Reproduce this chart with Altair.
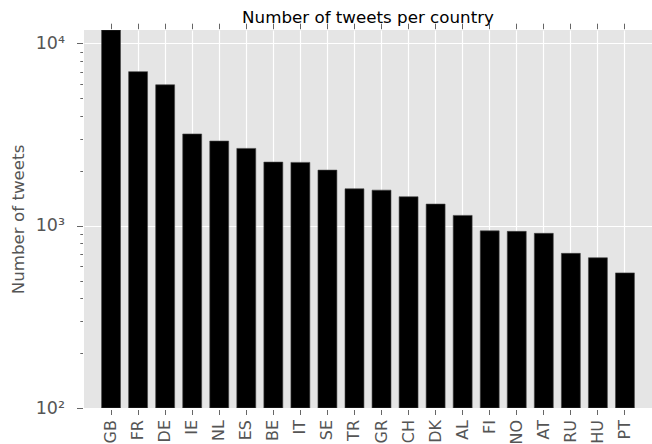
import altair as alt
import pandas as pd

countries = ["GB", "FR", "DE", "IE", "NL", "ES", "BE", "IT", "SE", "TR",
             "GR", "CH", "DK", "AL", "FI", "NO", "AT", "RU", "HU", "PT"]
tweets = [11840, 7000, 5930, 3185, 2913, 2655, 2233, 2225, 2018, 1594,
          1567, 1442, 1314, 1139, 937, 931, 908, 705, 667, 551]

major_ticks = [100, 1000, 10000]
minor_ticks = [200, 300, 400, 500, 600, 700, 800, 900,
               2000, 3000, 4000, 5000, 6000, 7000, 8000, 9000]
y_floor = 100

df = pd.DataFrame({"country": countries, "tweets": tweets,
                   "base": [y_floor] * len(countries)})

FONT = "DejaVu Sans"
GRAY = "#555555"
TICK = "#666666"

x_scale = alt.Scale(paddingInner=0.3, paddingOuter=0.65)
y_scale = alt.Scale(type="log", domain=[100, 11844], nice=False)

label_expr = "datum.value == 100 ? '10²' : datum.value == 1000 ? '10³' : '10⁴'"

bars = alt.Chart(df).mark_bar(
    color="black", stroke="#444444", strokeWidth=0.6, clip=True
).encode(
    x=alt.X("country:N", sort=countries, scale=x_scale,
            axis=alt.Axis(orient="bottom", title=None, labelAngle=270,
                          labelAlign="right", labelBaseline="middle",
                          labelFontSize=16, labelColor=GRAY, labelFont=FONT,
                          labelPadding=5, labelOverlap=False,
                          tickSize=5, tickColor=TICK, tickWidth=1,
                          offset=1.5, domain=False, grid=True,
                          gridColor="white", gridWidth=1.2)),
    y=alt.Y("tweets:Q", scale=y_scale,
            axis=alt.Axis(orient="left", values=major_ticks,
                          labelExpr=label_expr, labelFontSize=17.5,
                          labelColor=GRAY, labelFont=FONT, labelPadding=12,
                          labelOverlap=False, labelBaseline="middle",
                          tickSize=6, tickColor=TICK, tickWidth=1,
                          offset=1.5, domain=False, grid=True,
                          gridColor="white", gridWidth=1.2,
                          title="Number of tweets", titleX=-64, titleY=189,
                          titleAngle=270, titleAlign="center",
                          titleBaseline="middle", titleFontSize=16.7,
                          titleFontWeight="normal", titleColor=GRAY,
                          titleFont=FONT)),
    y2="base:Q",
)

ghost = alt.Chart(df).mark_bar(opacity=0).encode(
    x=alt.X("country:N", sort=countries,
            axis=alt.Axis(orient="top", labels=False, title=None,
                          tickSize=5.5, tickColor=TICK, tickWidth=1,
                          offset=1.3, domain=False, grid=False)),
    y=alt.Y("tweets:Q",
            axis=alt.Axis(orient="left", values=minor_ticks, labels=False,
                          title=None, tickSize=2.7, tickColor=TICK,
                          tickWidth=1, offset=1.5, domain=False, grid=False)),
    y2="base:Q",
)

chart = alt.layer(bars, ghost).resolve_axis(
    x="independent", y="independent"
).properties(
    width=568, height=378,
    padding={"left": 84, "top": 30, "right": 0, "bottom": 36},
    autosize=alt.AutoSizeParams(type="none"),
    title=alt.TitleParams("Number of tweets per country", fontSize=16.7,
                          font=FONT, fontWeight="normal", color="black",
                          anchor="middle", offset=-4),
).configure(background="white").configure_view(fill="#E5E5E5", strokeWidth=0)

chart.save("out.html", embed_options={"renderer": "svg", "actions": False})
